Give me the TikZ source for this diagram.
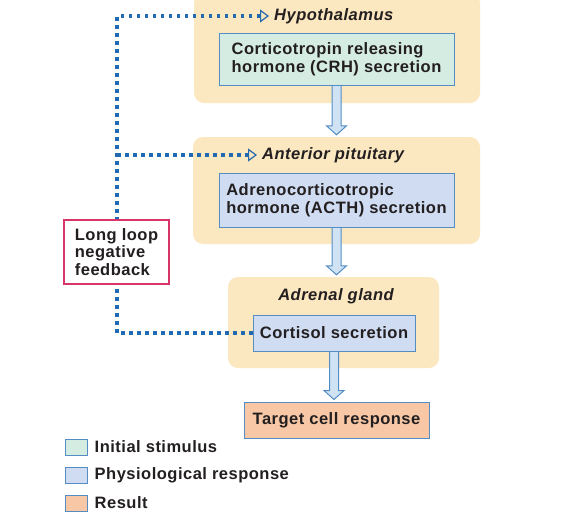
\documentclass[tikz,border=0pt]{standalone}
\usepackage{fontspec}
\setmainfont{Liberation Sans}[LetterSpace=3]
\usepackage{xcolor}
\usetikzlibrary{arrows.meta, positioning, calc}
\definecolor{panelbeige}{RGB}{251,231,192}
\definecolor{stimgreen}{RGB}{213,236,227}
\definecolor{respblue}{RGB}{207,220,241}
\definecolor{resultpeach}{RGB}{248,200,166}
\definecolor{boxborder}{RGB}{84,140,196}
\definecolor{loopred}{RGB}{217,52,104}
\definecolor{dotblue}{RGB}{35,105,175}
\definecolor{arrowfill}{RGB}{207,227,244}
\definecolor{textdark}{RGB}{35,31,32}
\tikzstyle{panel} = [rectangle, rounded corners=10pt, fill=panelbeige, draw=none]
\tikzstyle{stage} = [rectangle, draw=boxborder, line width=1pt, text=textdark, align=left, inner sep=0pt, font=\bfseries\fontsize{16.5}{18.5}\selectfont]
\tikzstyle{tissue} = [text=textdark, inner sep=1pt, font=\bfseries\itshape\fontsize{16.5}{18.5}\selectfont]
\tikzstyle{loopbox} = [rectangle, draw=loopred, line width=1.5pt, fill=white, text=textdark, align=left, minimum width=105pt, minimum height=64pt, font=\bfseries\fontsize{16.5}{17.5}\selectfont]
\tikzstyle{feedback} = [dotblue, line width=3.5pt, dash pattern=on 3.5pt off 4.5pt, shorten >=1pt, -{Triangle[open, length=9pt, width=13pt, line width=1.2pt, sep=3pt]}]
\tikzstyle{blockarrow} = [draw=boxborder, fill=arrowfill, line width=1pt, line join=miter]
\tikzstyle{legendbox} = [rectangle, draw=boxborder, line width=1pt, minimum width=22pt, minimum height=16pt, inner sep=0pt]
\tikzstyle{legendtext} = [text=textdark, inner sep=0pt, font=\bfseries\fontsize{16.5}{18.5}\selectfont]
% hollow block arrow from #1 down to the top of #2
\newcommand{\blockarrow}[2]{%
  \draw[blockarrow] ($(#1.south)+(-4.5,-0.5)$) -- ($(#1.south |- #2.north)+(-4.5,11)$)
    -- ($(#1.south |- #2.north)+(-10,11)$) -- ($(#1.south |- #2.north)+(0,2)$)
    -- ($(#1.south |- #2.north)+(10,11)$) -- ($(#1.south |- #2.north)+(4.5,11)$)
    -- ($(#1.south)+(4.5,-0.5)$);}

\begin{document}
\begin{tikzpicture}[x=1pt, y=1pt, node distance=87pt]
\useasboundingbox (0,0) rectangle (568,-512);

% Panels
\node (hyp) [panel, minimum width=286pt, minimum height=110pt] at (337,-48) {};
\node (ant) [panel, minimum width=287pt, minimum height=107pt] at (336.5,-190.5) {};
\node (adr) [panel, minimum width=211pt, minimum height=91pt] at (333.5,-322.5) {};

% Main flow
\node (crh) [stage, fill=stimgreen, minimum width=235pt, minimum height=52pt] at (336.5,-59) {Corticotropin releasing\\hormone (CRH) secretion};
\node (acth) [stage, fill=respblue, below of=crh, yshift=-54pt, minimum width=235pt, minimum height=54pt] {Adrenocorticotropic\\hormone (ACTH) secretion};
\node (cortisol) [stage, fill=respblue, below of=acth, yshift=-46pt, xshift=-2.5pt, minimum width=162pt, minimum height=36pt] {Cortisol secretion};
\node (target) [stage, fill=resultpeach, below of=cortisol, xshift=2.5pt, minimum width=185pt, minimum height=36pt] {Target cell response};

% Tissue labels
\node (hyplabel) [tissue, anchor=west] at (273,-16) {Hypothalamus};
\node (antlabel) [tissue, anchor=west] at (261,-155) {Anterior pituitary};
\node (adrlabel) [tissue] at (336,-296) {Adrenal gland};

% Arrows
\blockarrow{crh}{ant}
\blockarrow{acth}{adr}
\blockarrow{cortisol}{target}

% Feedback path
\coordinate (fbtop) at (117,-16);
\coordinate (fbmid) at (117,-155);
\draw [feedback] (cortisol.west) -| (fbtop) -- (hyplabel.west);
\draw [feedback] (fbmid) -- (antlabel.west);
\node (loop) [loopbox] at (116.5,-252) {Long loop\\negative\\feedback};

% Legend
\node (keystim) [legendbox, fill=stimgreen] at (76,-447) {};
\node (keyresp) [legendbox, fill=respblue] at (76,-475) {};
\node (keyresult) [legendbox, fill=resultpeach] at (76,-503) {};
\node [legendtext, right=7pt of keystim] {Initial stimulus};
\node [legendtext, right=7pt of keyresp] {Physiological response};
\node [legendtext, right=7pt of keyresult] {Result};

\end{tikzpicture}
\end{document}
